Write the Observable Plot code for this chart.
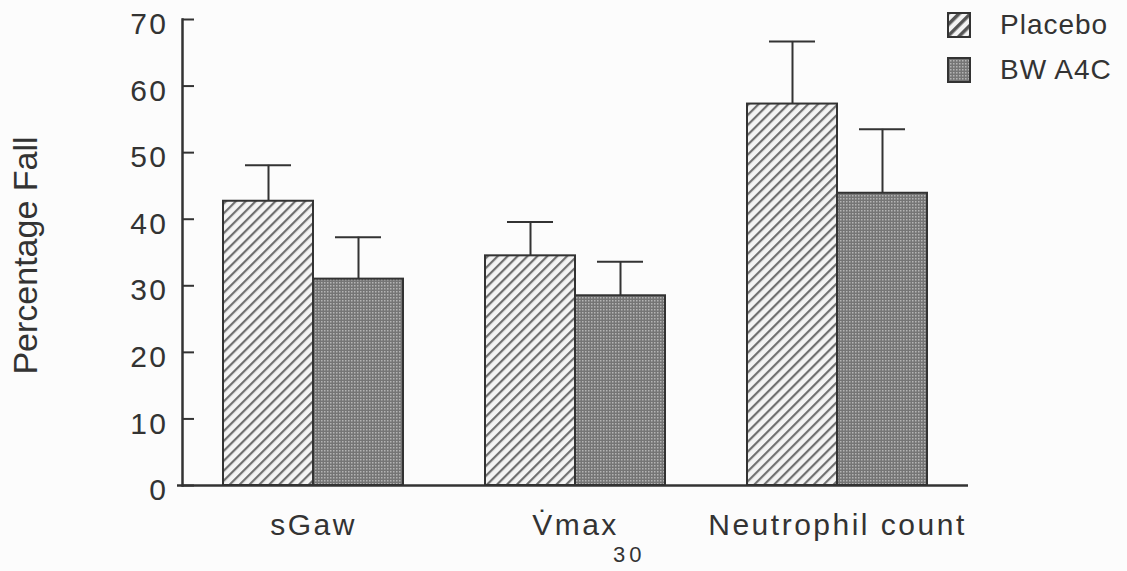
<!DOCTYPE html>
<html>
<head>
<meta charset="utf-8">
<script src="https://cdn.jsdelivr.net/npm/d3@7"></script>
<script src="https://cdn.jsdelivr.net/npm/@observablehq/plot@0.6"></script>
<style>
  html, body { margin: 0; padding: 0; background: #fcfcfc; }
  #wrap { position: relative; width: 1127px; height: 571px; font-family: "Liberation Sans", Arial, sans-serif; color: #333; }
  #legend { position: absolute; left: 947px; top: 12px; }
  .item { display: flex; align-items: center; height: 26px; margin-bottom: 19px; font-size: 28px; letter-spacing: 1px; }
  .item svg { margin-right: 29px; }
  #page { position: absolute; left: 613px; top: 542px; font-size: 22px; letter-spacing: 4px; }
  .xlab text, .ylab text { letter-spacing: 2.5px; }
</style>
</head>
<body>
<div id="wrap"></div>
<script>
// ---- data ----
const groups = ["sGaw", "V\u0307max", "Neutrophil count"];
const seriesNames = ["Placebo", "BW A4C"];
const placebo = [42.7, 34.5, 57.3];
const placeboErr = [5.4, 5.1, 9.4];
const bwa4c = [31.0, 28.5, 43.9];
const bwa4cErr = [6.3, 5.1, 9.6];
const yTicks = [0, 10, 20, 30, 40, 50, 60, 70];

const pRows = groups.map((g, i) => ({group: g, series: seriesNames[0], value: placebo[i], err: placeboErr[i]}));
const bRows = groups.map((g, i) => ({group: g, series: seriesNames[1], value: bwa4c[i], err: bwa4cErr[i]}));
const ink = "#333";

// half of a group's band holds one bar
const W = 1127, ML = 182, MR = 159;
const step = (W - ML - MR) / groups.length;
const half = step * (1 - 0.313) / 2;
const capIn = (half - 46) / 2;

const chart = Plot.plot({
  width: W,
  height: 571,
  marginLeft: ML,
  marginRight: MR,
  marginTop: 19,
  marginBottom: 86,
  style: {fontFamily: "Liberation Sans, Arial, sans-serif", color: ink, background: "transparent"},
  x: {domain: groups, paddingInner: 0.313, paddingOuter: 0.156, label: null},
  y: {domain: [0, 70], label: null},
  marks: [
    Plot.ruleX(pRows, {x: "group", y1: "value", y2: d => d.value + d.err, dx: -half / 2, stroke: ink, strokeWidth: 2}),
    Plot.ruleX(bRows, {x: "group", y1: "value", y2: d => d.value + d.err, dx: half / 2, stroke: ink, strokeWidth: 2}),
    Plot.tickY(pRows, {x: "group", y: d => d.value + d.err, insetLeft: capIn, insetRight: half + capIn, stroke: ink, strokeWidth: 2}),
    Plot.tickY(bRows, {x: "group", y: d => d.value + d.err, insetLeft: half + capIn, insetRight: capIn, stroke: ink, strokeWidth: 2}),
    Plot.barY(pRows, {x: "group", y: "value", insetRight: half, fill: "url(#hatch)", stroke: ink, strokeWidth: 2}),
    Plot.barY(bRows, {x: "group", y: "value", insetLeft: half, fill: "url(#stipple)", stroke: ink, strokeWidth: 2}),
    Plot.ruleY([0], {stroke: ink, strokeWidth: 2.5, insetLeft: -5}),
    Plot.frame({anchor: "left", stroke: ink, strokeWidth: 2.5}),
    Plot.axisY(yTicks, {anchor: "left", tickSize: -12, tickFormat: () => "", stroke: ink, strokeWidth: 2, label: null}),
    Plot.axisY(yTicks, {anchor: "left", tickSize: 0, tickPadding: 14, fontSize: 30, dy: 5, fill: ink, label: null, className: "ylab"}),
    Plot.axisX({anchor: "bottom", tickSize: 0, tickPadding: 28, fontSize: 30, fill: ink, label: null, className: "xlab"}),
    Plot.text(["Percentage Fall"], {frameAnchor: "left", textAnchor: "middle", rotate: -90, dx: -156, dy: 3, fontSize: 34, fill: ink})
  ]
});

// patterns
const ns = "http://www.w3.org/2000/svg";
const defs = document.createElementNS(ns, "defs");
defs.innerHTML = `
  <pattern id="hatch" patternUnits="userSpaceOnUse" width="7" height="7" patternTransform="rotate(45)">
    <rect width="7" height="7" fill="#f4f4f4"></rect>
    <rect x="0" y="0" width="2.2" height="7" fill="#707070"></rect>
  </pattern>
  <pattern id="stipple" patternUnits="userSpaceOnUse" width="3" height="3">
    <rect width="3" height="3" fill="#757575"></rect>
    <rect x="0" y="0" width="1.5" height="1.5" fill="#b4b4b4"></rect>
  </pattern>
  <pattern id="lhatch" patternUnits="userSpaceOnUse" width="8" height="8" patternTransform="rotate(45)">
    <rect width="8" height="8" fill="#f4f4f4"></rect>
    <rect width="3.5" height="8" fill="#555"></rect>
  </pattern>`;
chart.insertBefore(defs, chart.firstChild);

const wrap = document.getElementById("wrap");
wrap.appendChild(chart);

// legend
const legend = document.createElement("div");
legend.id = "legend";
const fills = ["url(#lhatch)", "url(#stipple)"];
seriesNames.forEach((name, i) => {
  const item = document.createElement("div");
  item.className = "item";
  item.innerHTML = `<svg width="24" height="26"><rect x="1" y="1" width="22" height="24" fill="${fills[i]}" stroke="${ink}" stroke-width="2"></rect></svg><span>${name}</span>`;
  legend.appendChild(item);
});
wrap.appendChild(legend);

const page = document.createElement("div");
page.id = "page";
page.textContent = "30";
wrap.appendChild(page);
</script>
</body>
</html>
